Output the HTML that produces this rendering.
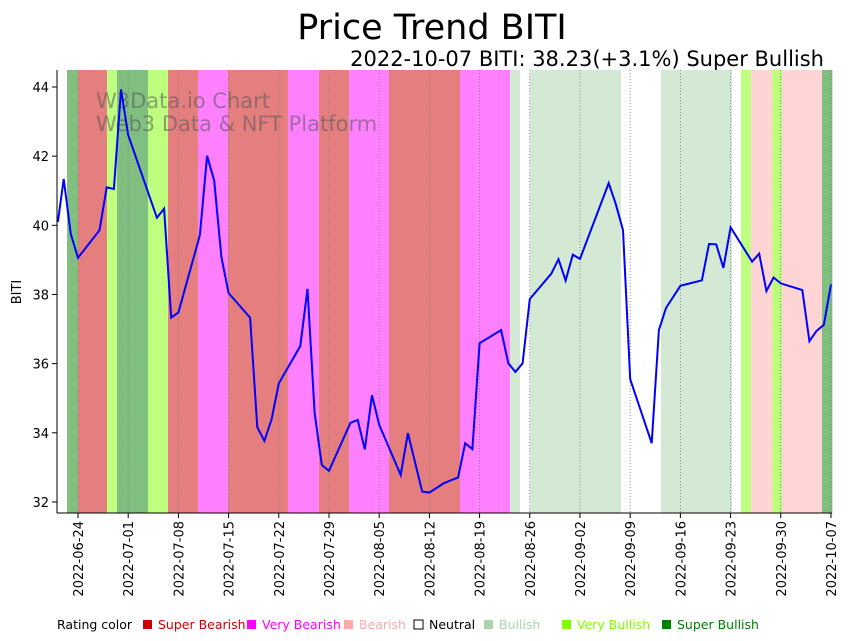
<!DOCTYPE html>
<html><head><meta charset="utf-8"><style>
body{margin:0;background:#fff;font-family:"Liberation Sans","DejaVu Sans",sans-serif;}
svg{display:block}
</style></head><body>
<svg id="c" width="848" height="641" xmlns="http://www.w3.org/2000/svg">
<text x="432" y="39" font-size="35" text-anchor="middle" fill="#000" font-family="DejaVu Sans, sans-serif">Price Trend BITI</text>
<text x="824" y="66" font-size="21" text-anchor="end" fill="#000" font-family="DejaVu Sans, sans-serif">2022-10-07 BITI: 38.23(+3.1%) Super Bullish</text>
<g id="bands"></g>
<g id="grid"></g>
<g font-size="21" fill="#555" fill-opacity="0.55" font-family="DejaVu Sans, sans-serif">
<text x="96" y="108">W3Data.io Chart</text>
<text x="96" y="131">Web3 Data &amp; NFT Platform</text>
</g>
<path id="line" fill="none" stroke="#0000ff" stroke-width="2"/>
<g id="axes"></g>
<text transform="translate(21,292) rotate(-90)" font-size="13" text-anchor="middle" font-family="DejaVu Sans, sans-serif">BITI</text>
<g id="legend" font-size="12.5" font-family="DejaVu Sans, sans-serif"></g>
</svg>
<script>
const dayOffsets=[-2.8,-2,-1,0,3,4,5,6,7,11,12,13,14,17,18,19,20,21,24,25,26,27,28,31,32,33,34,35,38,39,40,41,42,45,46,48,49,51,53,54,55,56,59,60,61,62,63,66,67,68,69,70,74,75,76,77,80,81,82,84,87,88,89,90,91,94,95,96,97,98,101,102,103,104,105];
const prices=[40.10,41.34,39.75,39.06,39.86,41.10,41.05,43.93,42.61,40.22,40.48,37.33,37.48,39.72,42.01,41.29,39.08,38.04,37.33,34.16,33.77,34.39,35.43,36.51,38.16,34.58,33.07,32.90,34.29,34.37,33.52,35.09,34.23,32.78,33.99,32.30,32.27,32.54,32.71,33.70,33.53,36.59,36.97,36.01,35.76,36.01,37.87,38.60,39.02,38.40,39.15,39.03,41.22,40.61,39.86,35.55,33.70,36.97,37.61,38.25,38.41,39.46,39.45,38.77,39.94,38.95,39.18,38.10,38.49,38.32,38.13,36.65,36.95,37.12,38.29];
const bandStarts=[-1.53,0,4.04,5.44,9.76,12.55,16.73,20.92,29.28,33.6,37.8,43.37,53.27,60.24,61.64,63.03,75.72,81.3,91.2,92.45,93.85,96.78,98.17,103.75];
const bandEnds=[0,4.04,5.44,9.76,12.55,16.73,20.92,29.28,33.6,37.8,43.37,53.27,60.24,61.64,63.03,75.72,81.3,91.2,92.45,93.85,96.78,98.17,103.75,105.2];
const bandRatings=["SB","SBe","VB","SB","VB","SBe","VBe","SBe","VBe","SBe","VBe","SBe","VBe","B","N","B","N","B","N","VB","Be","VB","Be","SB"];
const xTickDays=[0,7,14,21,28,35,42,49,56,63,70,77,84,91,98,105];
const xTickLabels=["2022-06-24","2022-07-01","2022-07-08","2022-07-15","2022-07-22","2022-07-29","2022-08-05","2022-08-12","2022-08-19","2022-08-26","2022-09-02","2022-09-09","2022-09-16","2022-09-23","2022-09-30","2022-10-07"];
const yTicks=[32,34,36,38,40,42,44];
const legendLabels=["Super Bearish","Very Bearish","Bearish","Neutral","Bullish","Very Bullish","Super Bullish"];
const legendColors=["#cc0000","#ff00ff","#ffaaaa","#ffffff","#aad4aa","#80ff00","#008000"];
const bandFill={SB:"#80bf80",SBe:"#e57e7e",VB:"#bfff7f",VBe:"#ff80ff",B:"#d4e9d4",Be:"#ffd4d4",N:"#ffffff"};

const L=57,R=832,T=70,B=513;
const xs=d=>78+d*7.171;
const ys=v=>87+(44-v)*34.58;
const NS="http://www.w3.org/2000/svg";
function mk(tag,attrs,parent){const e=document.createElementNS(NS,tag);for(const k in attrs)e.setAttribute(k,attrs[k]);parent.appendChild(e);return e;}
const bands=document.getElementById('bands');
bandStarts.forEach((s,i)=>{
 const r=mk('rect',{x:xs(s),y:T,width:xs(bandEnds[i])-xs(s),height:B-T,fill:bandFill[bandRatings[i]]},bands);
 
 
});
const grid=document.getElementById('grid');
const axes=document.getElementById('axes');
xTickDays.forEach((d,i)=>{
 const x=xs(d);
 const g=mk('line',{x1:x,x2:x,y1:T,y2:B,stroke:'#777',"stroke-width":0.8,"stroke-dasharray":"1,2"},grid);
 
 
 mk('line',{x1:x,x2:x,y1:B,y2:B+5,stroke:'#000'},axes);
 const t=mk('text',{transform:`translate(${x+5},${B+8}) rotate(-90)`,"font-size":13,"text-anchor":"end","font-family":"DejaVu Sans, sans-serif"},axes);
 t.textContent=xTickLabels[i];
 
 
});
yTicks.forEach(v=>{
 const y=ys(v);
 mk('line',{x1:L-5,x2:L,y1:y,y2:y,stroke:'#000'},axes);
 const t=mk('text',{x:L-8,y:y+5,"font-size":13,"text-anchor":"end","font-family":"DejaVu Sans, sans-serif"},axes);
 t.textContent=v;
 
 
});
mk('line',{x1:L,x2:L,y1:T,y2:B,stroke:'#000'},axes);
mk('line',{x1:L,x2:R,y1:B,y2:B,stroke:'#000'},axes);
document.getElementById('line').setAttribute('d',dayOffsets.map((d,i)=>(i?'L':'M')+xs(d).toFixed(1)+','+ys(prices[i]).toFixed(1)).join(''));
const lg=document.getElementById('legend');
const t0=mk('text',{x:57,y:629},lg);t0.textContent="Rating color";


const lx=[142,246,343,413,483,561,661];
legendLabels.forEach((lab,i)=>{
 const r=mk('rect',{x:lx[i]+1,y:620,width:9,height:9,fill:legendColors[i],stroke:i==3?'#000':'none'},lg);
 
 
 const t=mk('text',{x:lx[i]+16,y:629,fill:i==3?'#000':legendColors[i]},lg);
 t.textContent=lab;
 
 
});
</script>
</body></html>
